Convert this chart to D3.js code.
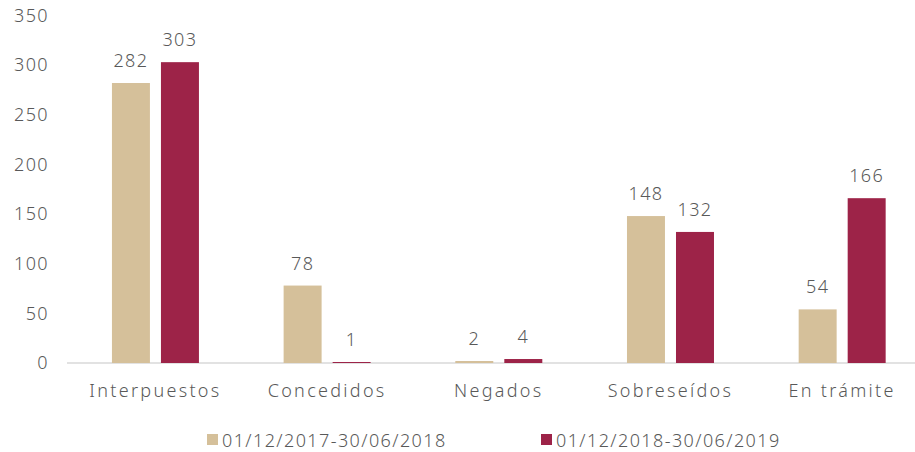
<html>
  <head>
    <meta charset="utf-8">
    <title>Recursos</title>
    <style>
      body { margin: 0; background: #fff; }
      svg text {
        font-family: "Noto Sans", sans-serif;
        font-weight: 300;
        letter-spacing: 1.4px;
        fill: #595959;
      }
      svg text.cat { letter-spacing: 2.3px; }
    </style>
    <script src="https://d3js.org/d3.v7.min.js"></script>
  </head>
  <body>
    <svg id="chart"></svg>
    <script>
      // Data
      let categories = ['Interpuestos', 'Concedidos', 'Negados', 'Sobreseídos', 'En trámite'];
      let seriesNames = ['01/12/2017-30/06/2018', '01/12/2018-30/06/2019'];
      let values2018 = [282, 78, 2, 148, 54];
      let values2019 = [303, 1, 4, 132, 166];
      let yTicks = [0, 50, 100, 150, 200, 250, 300, 350];
      let colors = ['#D5C09A', '#9D2348'];

      let width = 915;
      let height = 452;

      let svg = d3.select('#chart')
        .attr('width', width)
        .attr('height', height);

      let xScale = d3.scaleBand()
        .domain(categories)
        .range([69.6, 928]);

      let xInner = d3.scaleBand()
        .domain([0, 1])
        .range([-43.5, 43.5])
        .paddingInner(0.225);

      let yScale = d3.scaleLinear()
        .domain([0, 350])
        .range([363, 15.5]);

      // y axis labels only (no line, no ticks)
      let yAxis = svg.append('g')
        .attr('transform', 'translate(49,0)')
        .call(d3.axisLeft(yScale).tickValues(yTicks).tickSize(0).tickPadding(0));
      yAxis.select('.domain').remove();
      yAxis.selectAll('text')
        .style('font-size', '18px')
        .attr('fill', null)
        .style('font-family', null);

      // baseline
      svg.append('line')
        .attr('x1', 67).attr('x2', 915)
        .attr('y1', yScale(0)).attr('y2', yScale(0))
        .attr('stroke', '#d9d9d9')
        .attr('stroke-width', 1.5);

      let rows = categories.map((c, i) => ({ cat: c, vals: [values2018[i], values2019[i]] }));

      let groups = svg.selectAll('g.group')
        .data(rows)
        .enter().append('g')
        .attr('class', 'group')
        .attr('transform', d => `translate(${xScale(d.cat) + xScale.bandwidth() / 2},0)`);

      groups.selectAll('rect')
        .data(d => d.vals.map((v, s) => ({ v: v, s: s })))
        .enter().append('rect')
        .attr('x', d => xInner(d.s))
        .attr('width', xInner.bandwidth())
        .attr('y', d => yScale(d.v))
        .attr('height', d => yScale(0) - yScale(d.v))
        .attr('fill', d => colors[d.s]);

      groups.selectAll('text.value')
        .data(d => d.vals.map((v, s) => ({ v: v, s: s })))
        .enter().append('text')
        .attr('class', 'value')
        .attr('x', d => xInner(d.s) + xInner.bandwidth() / 2)
        .attr('y', d => yScale(d.v) - 16)
        .attr('text-anchor', 'middle')
        .style('font-size', '18px')
        .text(d => d.v);

      // category labels
      svg.selectAll('text.cat')
        .data(categories)
        .enter().append('text')
        .attr('class', 'cat')
        .attr('x', d => xScale(d) + xScale.bandwidth() / 2)
        .attr('y', 397)
        .attr('text-anchor', 'middle')
        .style('font-size', '18px')
        .text(d => d);

      // legend
      let legendX = [207, 541];
      let legend = svg.selectAll('g.legend')
        .data(seriesNames)
        .enter().append('g')
        .attr('class', 'legend')
        .attr('transform', (d, i) => `translate(${legendX[i]},440)`);
      legend.append('rect')
        .attr('x', 0).attr('y', -6)
        .attr('width', 11).attr('height', 11)
        .attr('fill', (d, i) => colors[i]);
      legend.append('text')
        .attr('x', 15)
        .attr('y', 6.5)
        .style('font-size', '18px')
        .text(d => d);
    </script>
  </body>
</html>
